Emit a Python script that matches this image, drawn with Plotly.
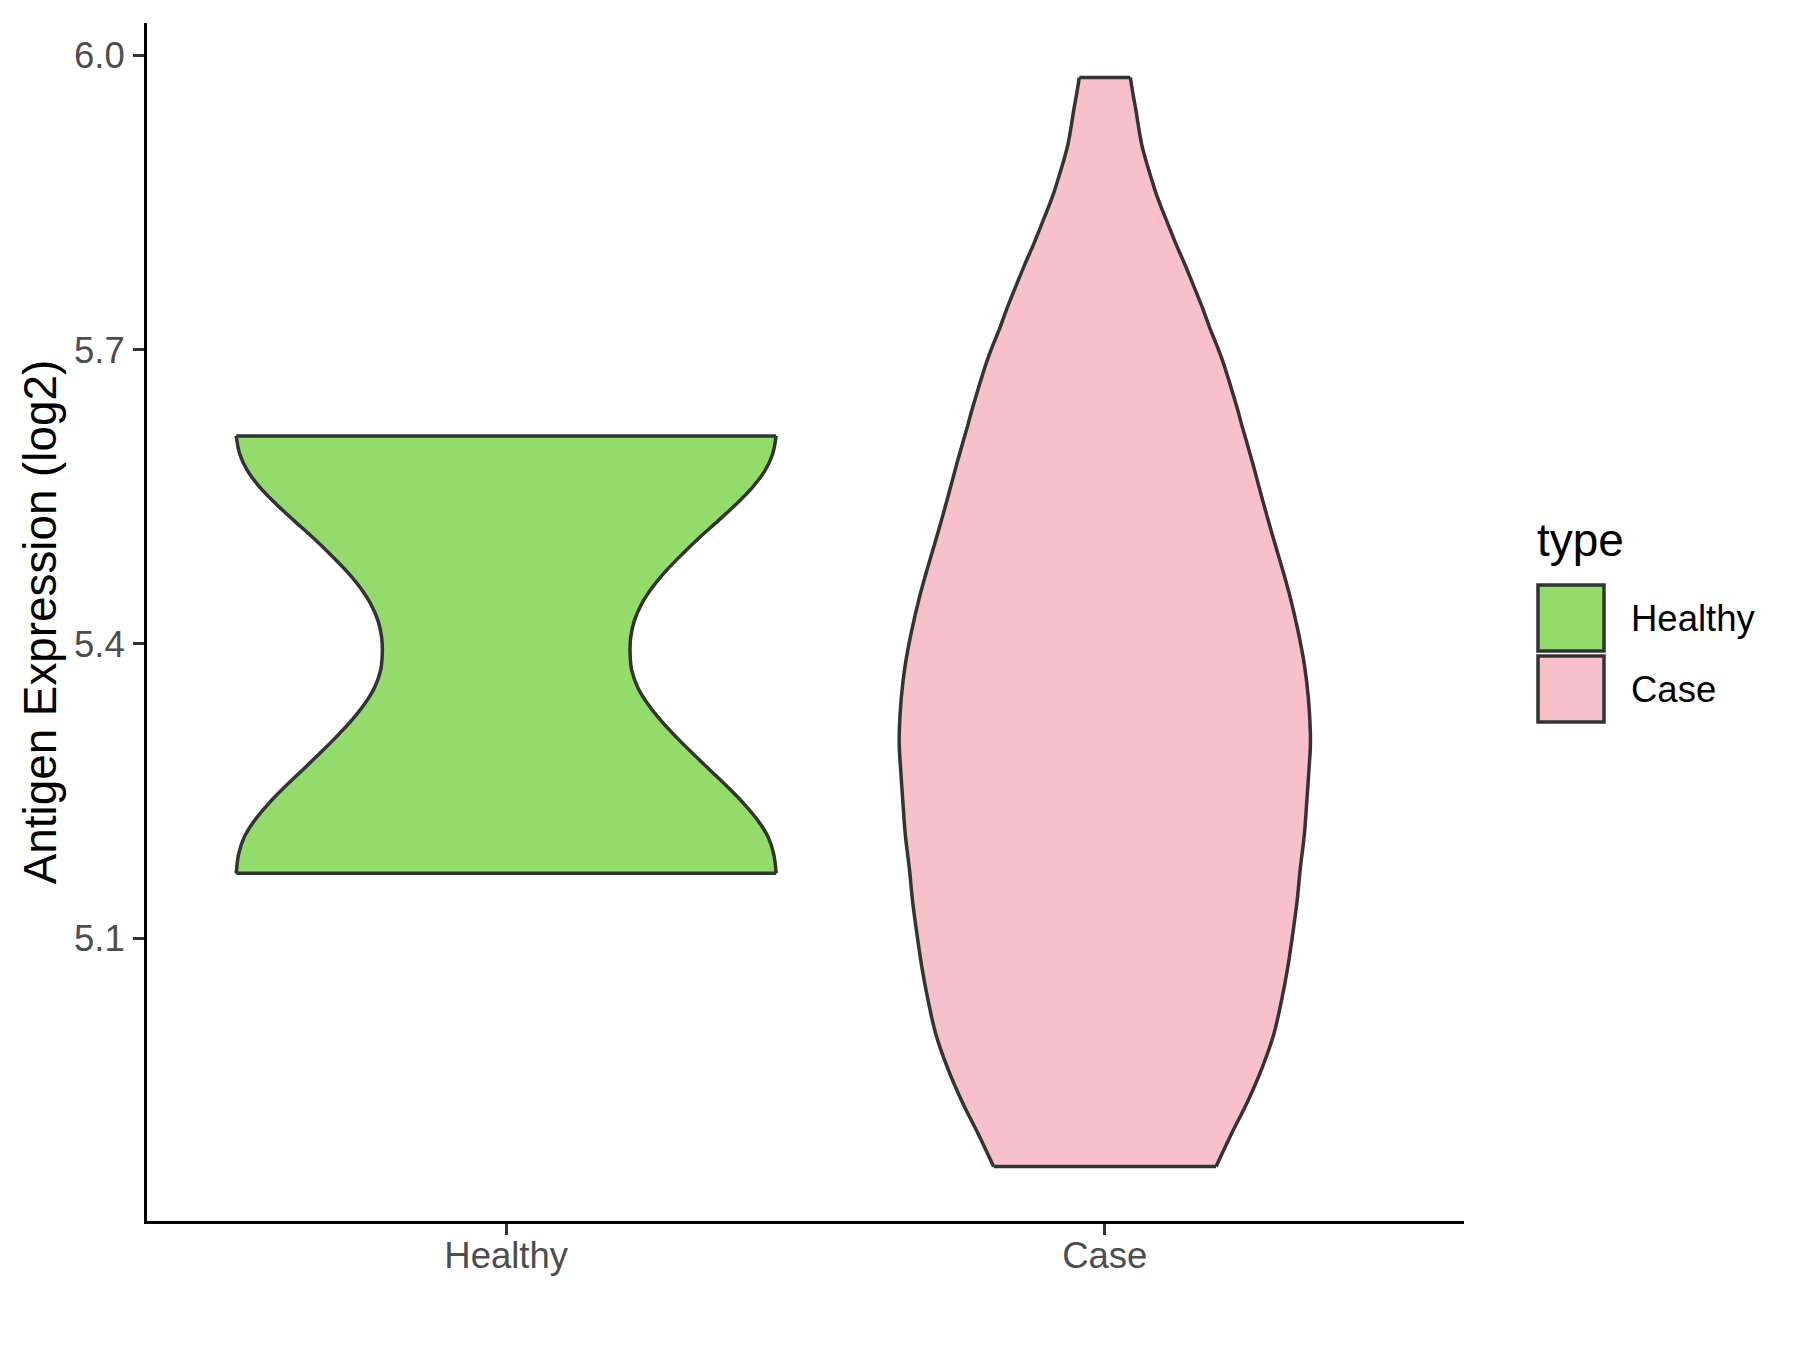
import plotly.graph_objects as go

# ---- data ----
categories = ["Healthy", "Case"]
fill_colors = ["#93DB6B", "#F7C0CB"]

# violin outlines: y values (log2 expression) and half-widths (in category units)
healthy_y = [5.6122, 5.5935, 5.5765, 5.5595, 5.5425, 5.5255, 5.5085, 5.4915, 5.4745,
             5.4575, 5.4405, 5.4235, 5.4065, 5.3895, 5.3724, 5.3554, 5.3384, 5.3214,
             5.3044, 5.2874, 5.2704, 5.2534, 5.2364, 5.2194, 5.2024, 5.1854, 5.1660]
healthy_hw = [0.451, 0.445, 0.432, 0.411, 0.384, 0.354, 0.323, 0.294, 0.267,
              0.244, 0.226, 0.214, 0.208, 0.207, 0.210, 0.220, 0.237, 0.259,
              0.285, 0.313, 0.342, 0.371, 0.398, 0.421, 0.438, 0.447, 0.451]

case_y = [5.9778, 5.9609, 5.9439, 5.9268, 5.9099, 5.8928, 5.8758, 5.8588, 5.8418,
          5.8247, 5.8078, 5.7908, 5.7737, 5.7567, 5.7398, 5.7226, 5.7057, 5.6887,
          5.6716, 5.6547, 5.6376, 5.6206, 5.6070, 5.5832, 5.5491, 5.5151, 5.4811,
          5.4470, 5.4130, 5.3790, 5.3450, 5.3110, 5.2940, 5.2770, 5.2429, 5.2055,
          5.1714, 5.1374, 5.1034, 5.0694, 5.0354, 5.0013, 4.9673, 4.9333, 4.8993,
          4.8669]
case_hw = [0.0426, 0.0471, 0.0521, 0.0565, 0.0615, 0.0688, 0.0772, 0.0860, 0.0966,
           0.1078, 0.1189, 0.1311, 0.1428, 0.1540, 0.1650, 0.1751, 0.1863, 0.1968,
           0.2058, 0.2142, 0.2225, 0.2300, 0.2365, 0.2475, 0.2625, 0.2780, 0.2944,
           0.3099, 0.3228, 0.3333, 0.3400, 0.3433, 0.3433, 0.3416, 0.3378, 0.3333,
           0.3266, 0.3211, 0.3137, 0.3054, 0.2949, 0.2820, 0.2626, 0.2386, 0.2108,
           0.1858]

y_ticks = [5.1, 5.4, 5.7, 6.0]
y_tick_labels = ["5.1", "5.4", "5.7", "6.0"]
y_title = "Antigen Expression (log2)"
legend_title = "type"

# ---- figure ----
W, H = 1800, 1350
OFF = 8  # page body margin
L, T = 147 - OFF, 23 - OFF
PW, PH = 1317, 1198
R, B = W - L - PW, H - T - PH
FONT = "Liberation Sans, Arial, Helvetica, sans-serif"
OUTLINE = "#333333"
LW = 3.5

profiles = [(healthy_y, healthy_hw), (case_y, case_hw)]

fig = go.Figure()
for i, (cat, (ys, hws)) in enumerate(zip(categories, profiles)):
    c = i + 1
    left = [c - h for h in hws]
    right = [c + h for h in hws]
    # filled body
    fig.add_trace(go.Scatter(
        x=left + right[::-1] + [left[0]], y=list(ys) + list(ys)[::-1] + [ys[0]],
        mode="lines", fill="toself", fillcolor=fill_colors[i],
        line=dict(color=fill_colors[i], width=0),
        name=cat, showlegend=False, hoverinfo="skip"))
    # outline: smooth sides, straight top and bottom
    ox = left + [None] + right + [None] + [left[0], right[0]] + [None] + [left[-1], right[-1]]
    oy = list(ys) + [None] + list(ys) + [None] + [ys[0], ys[0]] + [None] + [ys[-1], ys[-1]]
    fig.add_trace(go.Scatter(
        x=ox, y=oy, mode="lines", connectgaps=False,
        line=dict(color=OUTLINE, width=LW, shape="spline", smoothing=1.0),
        showlegend=False, hoverinfo="skip"))

all_y = healthy_y + case_y
lo, hi = min(all_y), max(all_y)
pad = 0.05 * (hi - lo)

fig.update_layout(
    width=W, height=H,
    margin=dict(l=L, r=R, t=T, b=B, autoexpand=False),
    paper_bgcolor="white", plot_bgcolor="white",
    font=dict(family=FONT, color="#4D4D4D"),
    showlegend=False,
)
fig.update_xaxes(
    range=[0.4, 2.6], tickvals=[1, 2], ticktext=categories,
    showline=True, linecolor="black", linewidth=3,
    ticks="outside", ticklen=11, tickwidth=3, tickcolor=OUTLINE,
    tickfont=dict(size=36.5, color="#4D4D4D", family=FONT),
    showgrid=False, zeroline=False, ticklabelstandoff=-11,
)
fig.update_yaxes(
    range=[lo - pad, hi + pad], tickvals=y_ticks, ticktext=y_tick_labels,
    showline=True, linecolor="black", linewidth=3,
    ticks="outside", ticklen=11, tickwidth=3, tickcolor=OUTLINE,
    tickfont=dict(size=36.5, color="#4D4D4D", family=FONT),
    showgrid=False, zeroline=False, ticklabelstandoff=1,
    title=dict(text=y_title, font=dict(size=45.8, color="black", family=FONT), standoff=3),
)

# ---- manual ggplot-style legend (positions in screen pixels) ----
def px_x(x):
    return (x - OFF - L) / PW
def px_y(y):
    return (T + PH - (y - OFF)) / PH

fig.add_annotation(x=px_x(1535), y=px_y(540), xref="paper", yref="paper",
                   text=legend_title, showarrow=False, xanchor="left", yanchor="middle",
                   font=dict(size=46, color="black", family=FONT))
key_tops = [585, 656]
for i, cat in enumerate(categories):
    y0 = key_tops[i]
    y1 = y0 + 66
    fig.add_shape(type="rect", xref="paper", yref="paper",
                  x0=px_x(1538), x1=px_x(1604), y0=px_y(y1), y1=px_y(y0),
                  fillcolor=fill_colors[i], line=dict(color=OUTLINE, width=3.5))
    fig.add_annotation(x=px_x(1629), y=px_y((y0 + y1) / 2), xref="paper", yref="paper",
                       text=cat, showarrow=False, xanchor="left", yanchor="middle",
                       font=dict(size=36.5, color="black", family=FONT))

fig.write_html("out.html")
